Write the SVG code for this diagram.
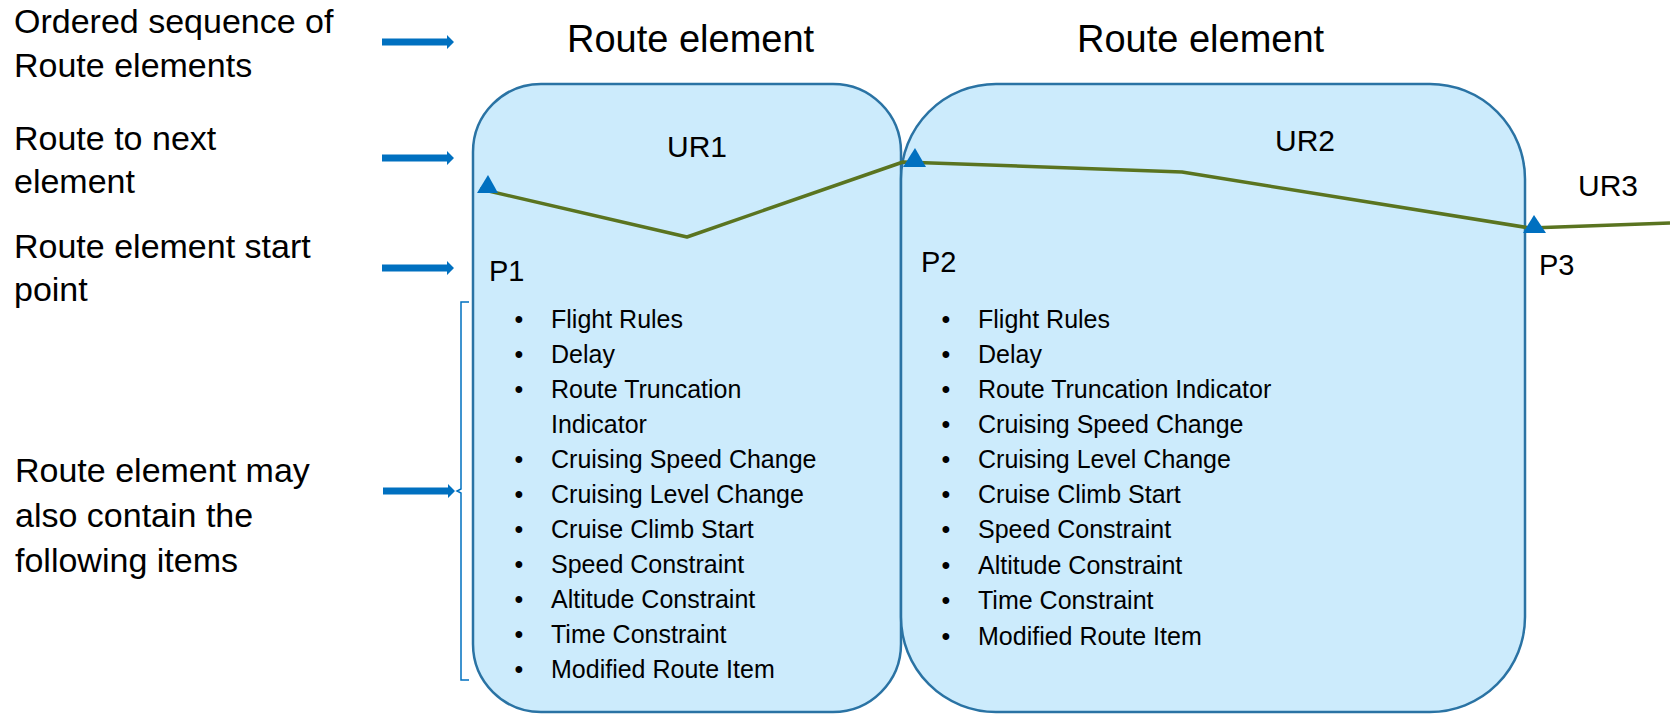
<svg xmlns="http://www.w3.org/2000/svg" width="1670" height="714" viewBox="0 0 1670 714">
<style>
text{font-family:"Liberation Sans",Arial,sans-serif;fill:#000}
.lbl{font-size:34px}
.title{font-size:38px}
.ur{font-size:30px}
.p{font-size:29px}
.item{font-size:25px}
.box{fill:#CCEBFC;stroke:#2A73A4;stroke-width:2.5}
.route{fill:none;stroke:#5A7420;stroke-width:3.5;stroke-linejoin:round}
.tri{fill:#0070C0}
.arr{fill:#0070C0}
</style>
<defs>
<path id="arrowShape" d="M0,-3.5 H65 V-7 L72,0 L65,7 V3.5 H0 Z"/>
</defs>

<g id="legend">
<text class="lbl" x="14" y="33">Ordered sequence of</text>
<text class="lbl" x="14" y="77">Route elements</text>
<text class="lbl" x="14" y="150">Route to next</text>
<text class="lbl" x="14" y="193">element</text>
<text class="lbl" x="14" y="258">Route element start</text>
<text class="lbl" x="14" y="301">point</text>
<text class="lbl" x="15" y="482">Route element may</text>
<text class="lbl" x="15" y="527">also contain the</text>
<text class="lbl" x="15" y="572">following items</text>
</g>

<g id="titles">
<text class="title" x="567" y="52">Route element</text>
<text class="title" x="1077" y="52">Route element</text>
</g>

<g id="element1">
<rect class="box" x="473" y="84" width="428" height="628" rx="68" ry="68"/>
<text class="ur" x="667" y="157">UR1</text>
<text class="p" x="489" y="281">P1</text>
<g class="item">
<text class="item" x="519" y="328" text-anchor="middle">•</text><text class="item" x="551" y="328">Flight Rules</text>
<text class="item" x="519" y="363" text-anchor="middle">•</text><text class="item" x="551" y="363">Delay</text>
<text class="item" x="519" y="398" text-anchor="middle">•</text><text class="item" x="551" y="398">Route Truncation</text>
<text class="item" x="551" y="433">Indicator</text>
<text class="item" x="519" y="468" text-anchor="middle">•</text><text class="item" x="551" y="468">Cruising Speed Change</text>
<text class="item" x="519" y="503" text-anchor="middle">•</text><text class="item" x="551" y="503">Cruising Level Change</text>
<text class="item" x="519" y="538" text-anchor="middle">•</text><text class="item" x="551" y="538">Cruise Climb Start</text>
<text class="item" x="519" y="573" text-anchor="middle">•</text><text class="item" x="551" y="573">Speed Constraint</text>
<text class="item" x="519" y="608" text-anchor="middle">•</text><text class="item" x="551" y="608">Altitude Constraint</text>
<text class="item" x="519" y="643" text-anchor="middle">•</text><text class="item" x="551" y="643">Time Constraint</text>
<text class="item" x="519" y="678" text-anchor="middle">•</text><text class="item" x="551" y="678">Modified Route Item</text>
</g>
</g>

<g id="element2">
<rect class="box" x="901" y="84" width="624" height="628" rx="95" ry="95"/>
<text class="ur" x="1275" y="151">UR2</text>
<text class="p" x="921" y="272">P2</text>
<g>
<text class="item" x="946" y="328" text-anchor="middle">•</text><text class="item" x="978" y="328">Flight Rules</text>
<text class="item" x="946" y="363" text-anchor="middle">•</text><text class="item" x="978" y="363">Delay</text>
<text class="item" x="946" y="398" text-anchor="middle">•</text><text class="item" x="978" y="398">Route Truncation Indicator</text>
<text class="item" x="946" y="433" text-anchor="middle">•</text><text class="item" x="978" y="433">Cruising Speed Change</text>
<text class="item" x="946" y="468" text-anchor="middle">•</text><text class="item" x="978" y="468">Cruising Level Change</text>
<text class="item" x="946" y="503" text-anchor="middle">•</text><text class="item" x="978" y="503">Cruise Climb Start</text>
<text class="item" x="946" y="538" text-anchor="middle">•</text><text class="item" x="978" y="538">Speed Constraint</text>
<text class="item" x="946" y="574" text-anchor="middle">•</text><text class="item" x="978" y="574">Altitude Constraint</text>
<text class="item" x="946" y="609" text-anchor="middle">•</text><text class="item" x="978" y="609">Time Constraint</text>
<text class="item" x="946" y="645" text-anchor="middle">•</text><text class="item" x="978" y="645">Modified Route Item</text>
</g>
</g>

<g id="element3">
<text class="ur" x="1578" y="196">UR3</text>
<text class="p" x="1539" y="275">P3</text>
</g>

<g id="connectors">
<polyline class="route" points="480,189 687,237 903,162 1182,172 1530,228 1670,223"/>
<polygon class="tri" points="488,175 498,193 477,193"/>
<polygon class="tri" points="915,148 926,167 903,167"/>
<polygon class="tri" points="1534,215 1546,233 1523,233"/>
<use href="#arrowShape" class="arr" x="382" y="42"/>
<use href="#arrowShape" class="arr" x="382" y="158"/>
<use href="#arrowShape" class="arr" x="382" y="268"/>
<use href="#arrowShape" class="arr" x="383" y="491"/>
<path d="M469,302 H461 V489 L457,491 L461,493 V680 H469" fill="none" stroke="#0070C0" stroke-width="1.5"/>
</g>
</svg>
